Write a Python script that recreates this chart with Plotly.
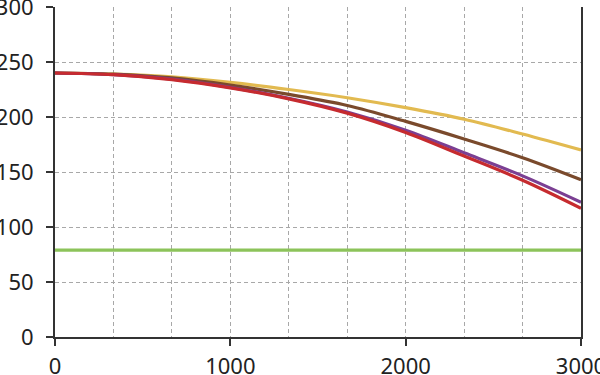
import plotly.graph_objects as go

x_vals = [0, 333.3, 666.7, 1000, 1333.3, 1666.7, 2000, 2333.3, 2666.7, 3000]
yellow = [240, 239, 236.5, 231.5, 225, 217.5, 208.5, 198, 184.5, 170]
brown = [240, 239, 235.5, 229, 220.5, 210.5, 196, 180, 163, 143]
purple = [240, 238.5, 234.5, 227, 217, 204.5, 188, 167.5, 146.5, 122.5]
red = [240, 238.5, 234, 226.5, 216.5, 203.5, 186, 164.5, 142.5, 117]
green = [79, 79, 79, 79, 79, 79, 79, 79, 79, 79]

series = [
    ("green", green, "#8cc35a"),
    ("yellow", yellow, "#e2ba50"),
    ("brown", brown, "#7a4a2c"),
    ("purple", purple, "#7b3f93"),
    ("red", red, "#c62b2f"),
]

fig = go.Figure()
for name, ys, col in series:
    fig.add_trace(go.Scatter(x=x_vals, y=ys, mode="lines", name=name,
                             line=dict(color=col, width=3.2, shape="spline", smoothing=1.0)))

grid = dict(showgrid=True, gridcolor="#a8a8a8", gridwidth=1, griddash="4px,3px")
fig.update_layout(
    width=600, height=375,
    margin=dict(l=55, r=19, t=7, b=38, autoexpand=False),
    paper_bgcolor="white", plot_bgcolor="white",
    showlegend=False,
    font=dict(family="Noto Sans", size=22, color="#222"),
    xaxis=dict(range=[0, 3000], tickvals=[0, 1000, 2000, 3000], ticks="outside",
               ticklen=7, tickwidth=2, tickcolor="#333", showline=True, linecolor="#333",
               linewidth=2, zeroline=False, automargin=False, ticklabeloverflow="allow",
               ticklabelstandoff=2,
               minor=dict(dtick=1000/3, tick0=0, showgrid=True, gridcolor="#a8a8a8",
                          gridwidth=1, griddash="4px,3px"),
               **grid),
    yaxis=dict(range=[0, 300], dtick=50, ticks="outside", ticklen=7, tickwidth=2,
               tickcolor="#333", showline=True, linecolor="#333", linewidth=2,
               mirror=True, zeroline=False, automargin=False, ticklabeloverflow="allow",
               ticklabelstandoff=8,
               **grid),
)
fig.write_html("out.html", config={"displayModeBar": False},
               post_script="document.body.style.margin='0';document.body.style.overflow='hidden';")
